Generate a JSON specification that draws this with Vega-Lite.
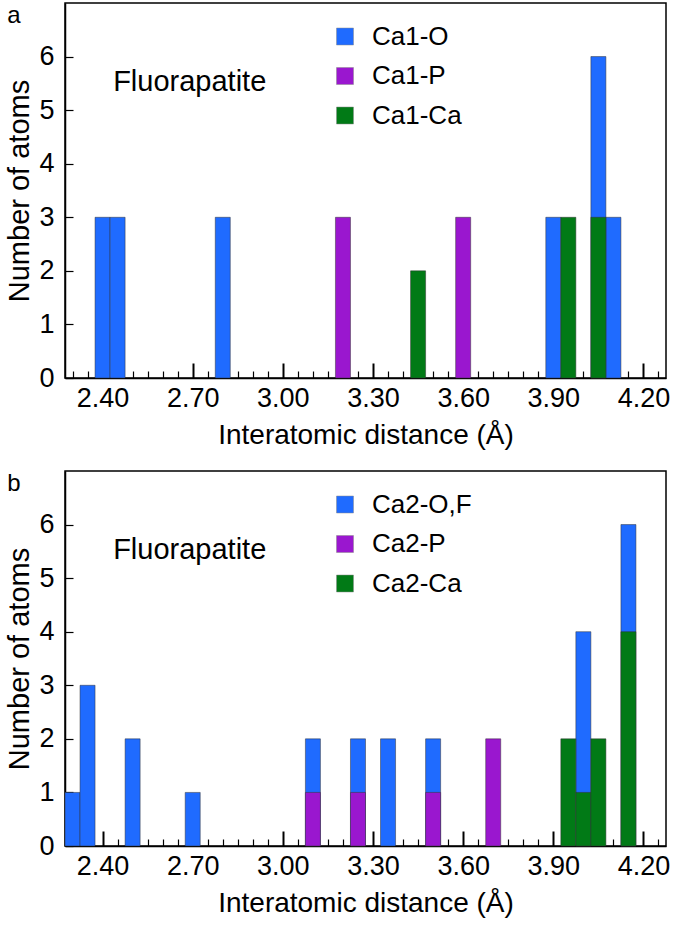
{
  "$schema": "https://vega.github.io/schema/vega-lite/v6.json",
  "padding": {"top": 2, "left": 5, "right": 5, "bottom": 5},
  "background": "white",
  "config": {
    "view": {"stroke": "#000", "strokeWidth": 1.5},
    "font": "Liberation Sans",
    "concat": {"spacing": 20}
  },
  "datasets": {
    "a": [
      {"type": "Ca1-O", "from": 2.375, "to": 2.425, "count": 3},
      {"type": "Ca1-O", "from": 2.425, "to": 2.475, "count": 3},
      {"type": "Ca1-O", "from": 2.775, "to": 2.825, "count": 3},
      {"type": "Ca1-O", "from": 3.875, "to": 3.925, "count": 3},
      {"type": "Ca1-O", "from": 4.025, "to": 4.075, "count": 6},
      {"type": "Ca1-O", "from": 4.075, "to": 4.125, "count": 3},
      {"type": "Ca1-P", "from": 3.175, "to": 3.225, "count": 3},
      {"type": "Ca1-P", "from": 3.575, "to": 3.625, "count": 3},
      {"type": "Ca1-Ca", "from": 3.425, "to": 3.475, "count": 2},
      {"type": "Ca1-Ca", "from": 3.925, "to": 3.975, "count": 3},
      {"type": "Ca1-Ca", "from": 4.025, "to": 4.075, "count": 3}
    ],
    "b": [
      {"type": "Ca2-O,F", "from": 2.275, "to": 2.325, "count": 1},
      {"type": "Ca2-O,F", "from": 2.325, "to": 2.375, "count": 3},
      {"type": "Ca2-O,F", "from": 2.475, "to": 2.525, "count": 2},
      {"type": "Ca2-O,F", "from": 2.675, "to": 2.725, "count": 1},
      {"type": "Ca2-O,F", "from": 3.075, "to": 3.125, "count": 2},
      {"type": "Ca2-O,F", "from": 3.225, "to": 3.275, "count": 2},
      {"type": "Ca2-O,F", "from": 3.325, "to": 3.375, "count": 2},
      {"type": "Ca2-O,F", "from": 3.475, "to": 3.525, "count": 2},
      {"type": "Ca2-O,F", "from": 3.975, "to": 4.025, "count": 4},
      {"type": "Ca2-O,F", "from": 4.125, "to": 4.175, "count": 6},
      {"type": "Ca2-P", "from": 3.075, "to": 3.125, "count": 1},
      {"type": "Ca2-P", "from": 3.225, "to": 3.275, "count": 1},
      {"type": "Ca2-P", "from": 3.475, "to": 3.525, "count": 1},
      {"type": "Ca2-P", "from": 3.675, "to": 3.725, "count": 2},
      {"type": "Ca2-Ca", "from": 3.925, "to": 3.975, "count": 2},
      {"type": "Ca2-Ca", "from": 3.975, "to": 4.025, "count": 1},
      {"type": "Ca2-Ca", "from": 4.025, "to": 4.075, "count": 2},
      {"type": "Ca2-Ca", "from": 4.125, "to": 4.175, "count": 4}
    ]
  },
  "resolve": {"scale": {"color": "independent"}, "legend": {"color": "independent"}},
  "vconcat": [
    {
      "width": 601,
      "height": 375,
      "resolve": {"axis": {"x": "independent"}},
      "layer": [
        {
          "data": {"name": "a"},
          "mark": {"type": "bar", "stroke": "#333", "strokeWidth": 0.5},
          "encoding": {
            "x": {
              "field": "from", "type": "quantitative", "title": "Interatomic distance (Å)",
              "scale": {"domain": [2.275, 4.275], "nice": false, "zero": false},
              "axis": {
                "orient": "bottom",
                "values": [2.4, 2.7, 3.0, 3.3, 3.6, 3.9, 4.2], "format": ".2f",
                "tickSize": -15, "tickWidth": 2,
                "tickColor": "#000", "domainColor": "#000", "domainWidth": 1.5, "grid": false,
                "labelFontSize": 27, "labelColor": "#000", "labelPadding": 22, "labelFlush": false, "labelOverlap": false,
                "titleFontSize": 28, "titleFontWeight": "normal", "titleColor": "#000", "titlePadding": 10
              }
            },
            "x2": {"field": "to"},
            "y": {
              "field": "count", "type": "quantitative", "stack": null, "title": "Number of atoms",
              "scale": {"domain": [0, 7], "nice": false},
              "axis": {
                "values": [0,1,2,3,4,5,6], "format": "d", "tickSize": -8, "tickWidth": 1.2, "tickColor": "#000",
                "domainColor": "#000", "domainWidth": 1.5, "grid": false,
                "labelFontSize": 27, "labelColor": "#000", "labelPadding": 19,
                "titleFontSize": 29, "titleFontWeight": "normal", "titleColor": "#000", "titlePadding": 4
              }
            },
            "y2": {"datum": 0},
            "color": {
              "field": "type", "type": "nominal",
              "scale": {"domain": ["Ca1-O", "Ca1-P", "Ca1-Ca"], "range": ["#1f6bff", "#9a17cf", "#017a16"]},
              "legend": {"orient": "none", "legendX": 267, "legendY": 20.5, "title": null, "symbolType": "square", "symbolSize": 289, "symbolStrokeColor": "#888", "symbolStrokeWidth": 0.5, "symbolOpacity": 1, "labelFontSize": 26, "labelColor": "#000", "labelOffset": 14, "rowPadding": 13.5, "padding": 0}
            }
          }
        },
        {
          "data": {"values": [{}]},
          "mark": {"type": "text", "fontSize": 29, "align": "center", "baseline": "alphabetic", "color": "#000"},
          "encoding": {
            "x": {
              "datum": 2.69, "type": "quantitative",
              "axis": {
                "orient": "bottom", "title": null, "labels": false, "domain": false, "grid": false,
                "values": [2.3,2.35,2.45,2.5,2.55,2.6,2.65,2.75,2.8,2.85,2.9,2.95,3.05,3.1,3.15,3.2,3.25,3.35,3.4,3.45,3.5,3.55,3.65,3.7,3.75,3.8,3.85,3.95,4.0,4.05,4.1,4.15,4.25],
                "tickSize": -7, "tickWidth": 1.2, "tickColor": "#000"
              }
            },
            "y": {"datum": 5.36, "type": "quantitative"},
            "text": {"value": "Fluorapatite"}
          }
        },
        {
          "data": {"values": [{}]},
          "mark": {"type": "text", "fontSize": 24, "align": "center", "baseline": "alphabetic", "color": "#000"},
          "encoding": {
            "x": {"datum": 2.105, "type": "quantitative", "axis": null},
            "y": {"datum": 6.62, "type": "quantitative"},
            "text": {"value": "a"}
          }
        }
      ]
    },
    {
      "width": 601,
      "height": 375,
      "resolve": {"axis": {"x": "independent"}},
      "layer": [
        {
          "data": {"name": "b"},
          "mark": {"type": "bar", "stroke": "#333", "strokeWidth": 0.5},
          "encoding": {
            "x": {
              "field": "from", "type": "quantitative", "title": "Interatomic distance (Å)",
              "scale": {"domain": [2.275, 4.275], "nice": false, "zero": false},
              "axis": {
                "orient": "bottom",
                "values": [2.4, 2.7, 3.0, 3.3, 3.6, 3.9, 4.2], "format": ".2f",
                "tickSize": -15, "tickWidth": 2,
                "tickColor": "#000", "domainColor": "#000", "domainWidth": 1.5, "grid": false,
                "labelFontSize": 27, "labelColor": "#000", "labelPadding": 22, "labelFlush": false, "labelOverlap": false,
                "titleFontSize": 28, "titleFontWeight": "normal", "titleColor": "#000", "titlePadding": 10
              }
            },
            "x2": {"field": "to"},
            "y": {
              "field": "count", "type": "quantitative", "stack": null, "title": "Number of atoms",
              "scale": {"domain": [0, 7], "nice": false},
              "axis": {
                "values": [0,1,2,3,4,5,6], "format": "d", "tickSize": -8, "tickWidth": 1.2, "tickColor": "#000",
                "domainColor": "#000", "domainWidth": 1.5, "grid": false,
                "labelFontSize": 27, "labelColor": "#000", "labelPadding": 19,
                "titleFontSize": 29, "titleFontWeight": "normal", "titleColor": "#000", "titlePadding": 4
              }
            },
            "y2": {"datum": 0},
            "color": {
              "field": "type", "type": "nominal",
              "scale": {"domain": ["Ca2-O,F", "Ca2-P", "Ca2-Ca"], "range": ["#1f6bff", "#9a17cf", "#017a16"]},
              "legend": {"orient": "none", "legendX": 267, "legendY": 20.5, "title": null, "symbolType": "square", "symbolSize": 289, "symbolStrokeColor": "#888", "symbolStrokeWidth": 0.5, "symbolOpacity": 1, "labelFontSize": 26, "labelColor": "#000", "labelOffset": 14, "rowPadding": 13.5, "padding": 0}
            }
          }
        },
        {
          "data": {"values": [{}]},
          "mark": {"type": "text", "fontSize": 29, "align": "center", "baseline": "alphabetic", "color": "#000"},
          "encoding": {
            "x": {
              "datum": 2.69, "type": "quantitative",
              "axis": {
                "orient": "bottom", "title": null, "labels": false, "domain": false, "grid": false,
                "values": [2.3,2.35,2.45,2.5,2.55,2.6,2.65,2.75,2.8,2.85,2.9,2.95,3.05,3.1,3.15,3.2,3.25,3.35,3.4,3.45,3.5,3.55,3.65,3.7,3.75,3.8,3.85,3.95,4.0,4.05,4.1,4.15,4.25],
                "tickSize": -7, "tickWidth": 1.2, "tickColor": "#000"
              }
            },
            "y": {"datum": 5.36, "type": "quantitative"},
            "text": {"value": "Fluorapatite"}
          }
        },
        {
          "data": {"values": [{}]},
          "mark": {"type": "text", "fontSize": 24, "align": "center", "baseline": "alphabetic", "color": "#000"},
          "encoding": {
            "x": {"datum": 2.105, "type": "quantitative", "axis": null},
            "y": {"datum": 6.62, "type": "quantitative"},
            "text": {"value": "b"}
          }
        }
      ]
    }
  ]
}
